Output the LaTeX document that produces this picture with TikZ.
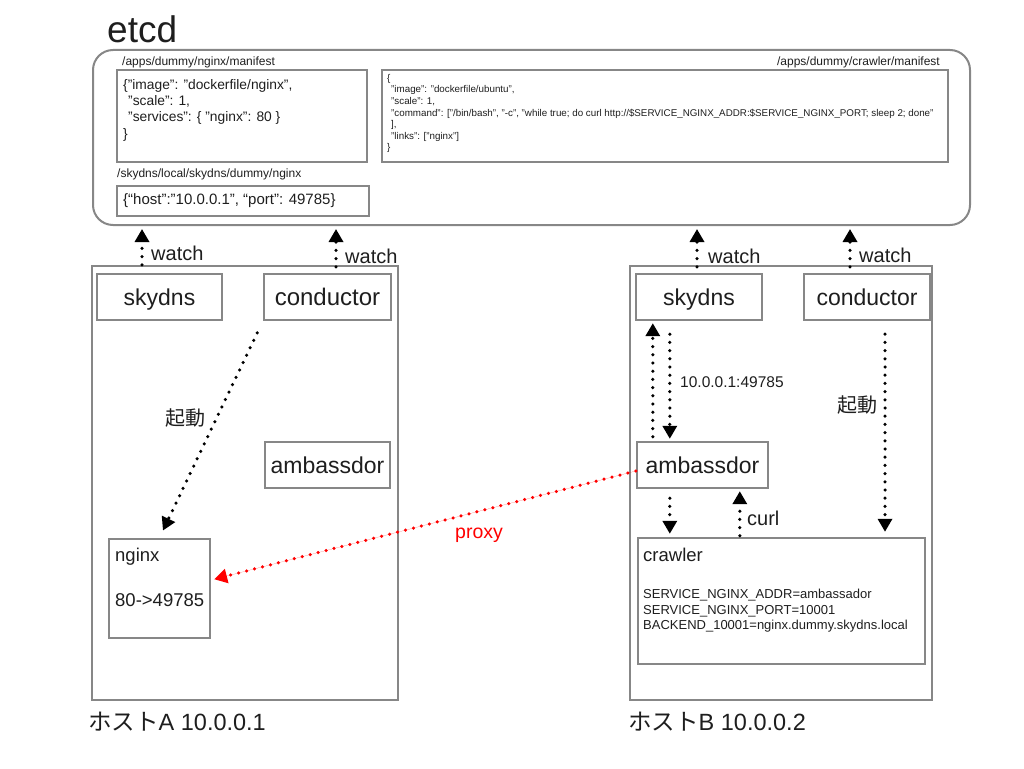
\documentclass[tikz,border=0pt]{standalone}
\usepackage{fontspec}
\setmainfont{Liberation Sans}
\newfontfamily\jpfont{Noto Sans CJK JP}
\usetikzlibrary{arrows.meta,calc}
\definecolor{edge}{HTML}{878787}
\definecolor{ink}{HTML}{1E1E1E}
\definecolor{proxyred}{HTML}{FF0000}
\newcommand\fsz[2]{\fontsize{#1}{#2}\selectfont}
\begin{document}
\begin{tikzpicture}[x=1pt,y=-1pt,
  gbox/.style={draw=edge, line width=2.4pt, inner sep=0pt, text=ink},
  txt/.style={inner sep=0pt, text=ink},
  dotarr/.style={draw=black, line width=3.5pt, dash pattern=on 0pt off 8.2pt, line cap=round, -{Triangle[width=14pt,length=13pt]}},
  redarr/.style={dotarr, draw=proxyred, fill=proxyred},
  wlbl/.style={txt, anchor=base west, font=\fsz{20}{24}},
  comp/.style={gbox, minimum height=46pt, text depth=0pt, font=\fsz{23}{27}}
]
\useasboundingbox (0,0) rectangle (1024,768);

% ---------- etcd ----------
\node[gbox, rounded corners=20pt, line width=2pt, minimum width=877pt, minimum height=175pt] (etcd) at (531.5,137.5) {};
\node[txt, anchor=base west, font=\fsz{37}{40}] (etcdlbl) at (107,42) {etcd};

\node[txt, anchor=base west, font=\fsz{12}{14}] (nmflbl) at (122,66) {/apps/dummy/nginx/manifest};
\node[gbox, minimum width=250pt, minimum height=92pt] (nmf) at (242,116) {};
\node[txt, anchor=north west, align=left, font=\fsz{13.8}{16.3}] (nmftxt) at (123,79)
 {\{"image": "dockerfile/nginx",\\
  \hspace*{5pt}"scale": 1,\\
  \hspace*{5pt}"services": \{ "nginx": 80 \}\\
  \}};

\node[txt, anchor=base west, font=\fsz{12}{14}] (skvlbl) at (117,177) {/skydns/local/skydns/dummy/nginx};
\node[gbox, minimum width=252pt, minimum height=30pt] (skv) at (243,201) {};
\node[txt, anchor=west, font=\fsz{15}{18}] (skvtxt) at (123,201) {\{“host”:"10.0.0.1", “port”: 49785\}};

\node[txt, anchor=base east, font=\fsz{12}{14}] (cmflbl) at (940,66) {/apps/dummy/crawler/manifest};
\node[gbox, minimum width=566pt, minimum height=92pt] (cmf) at (665,116) {};
\node[txt, anchor=north west, align=left, font=\fsz{9.8}{11.6}] (cmftxt) at (387,74)
 {\{\\
  \hspace*{4pt}"image": "dockerfile/ubuntu",\\
  \hspace*{4pt}"scale": 1,\\
  \hspace*{4pt}"command": ["/bin/bash", "-c", "while true; do curl http://\$SERVICE\_NGINX\_ADDR:\$SERVICE\_NGINX\_PORT; sleep 2; done"\\
  \hspace*{4pt}],\\
  \hspace*{4pt}"links": ["nginx"]\\
  \}};

% ---------- host A ----------
\node[gbox, minimum width=306pt, minimum height=434pt] (hostA) at (245,483) {};
\node[comp, minimum width=125pt] (skA) at (159.5,297) {skydns};
\node[comp, minimum width=127pt, font=\fsz{24}{28}] (coA) at (327.5,297) {conductor};
\node[comp, minimum width=125pt] (amA) at (327.5,465) {ambassdor};
\node[gbox, minimum width=101pt, minimum height=99pt] (ngA) at (159.5,588.5) {};
\node[txt, anchor=base west, font=\fsz{18.5}{22}] (ngAt1) at (115,561) {nginx};
\node[txt, anchor=base west, font=\fsz{18.5}{22}] (ngAt2) at (115,606) {80->49785};
\node[txt, anchor=base west, font=\fsz{23.5}{28}] (hostAlbl) at (88,730) {{\jpfont ホスト}A 10.0.0.1};

% ---------- host B ----------
\node[gbox, minimum width=302pt, minimum height=434pt] (hostB) at (781,483) {};
\node[comp, minimum width=126pt] (skB) at (699,297) {skydns};
\node[comp, minimum width=126pt] (coB) at (867,297) {conductor};
\node[comp, minimum width=131pt] (amB) at (702.5,465) {ambassdor};
\node[gbox, minimum width=287pt, minimum height=126pt] (crB) at (781.5,601) {};
\node[txt, anchor=base west, font=\fsz{18.5}{22}] (crBt) at (643,561) {crawler};
\node[txt, anchor=north west, align=left, font=\fsz{13}{15.6}] (crBenv) at (643,589)
 {SERVICE\_NGINX\_ADDR=ambassador\\
  SERVICE\_NGINX\_PORT=10001\\
  BACKEND\_10001=nginx.dummy.skydns.local};
\node[txt, anchor=base west, font=\fsz{23.5}{28}] (hostBlbl) at (628,730) {{\jpfont ホスト}B 10.0.0.2};

% ---------- anchor points for vertical connectors ----------
\coordinate (wA1) at ($(skA.north)+(-17.5,-8)$);
\coordinate (wA2) at ($(coA.north)+(8.5,-6)$);
\coordinate (wB1) at ($(skB.north)+(-2,-6)$);
\coordinate (wB2) at ($(coB.north)+(-17,-6)$);
\coordinate (upB) at ($(amB.north west)+(17,-4)$);
\coordinate (dnB) at ($(amB.north west)+(34,0)$);
\coordinate (amOut) at ($(amB.south west)+(34,9)$);
\coordinate (crOut) at ($(crB.north west)+(103,-1)$);
\coordinate (coOut) at ($(coB.south)+(18,13)$);

% ---------- watch arrows ----------
\draw[dotarr, shorten >=3pt] (wA1) -- (wA1 |- etcd.south);
\node[wlbl] (wlA1) at (151,260) {watch};
\draw[dotarr, shorten >=3pt] (wA2) -- (wA2 |- etcd.south);
\node[wlbl] (wlA2) at (345,263) {watch};
\draw[dotarr, shorten >=3pt] (wB1) -- (wB1 |- etcd.south);
\node[wlbl] (wlB1) at (708,263) {watch};
\draw[dotarr, shorten >=3pt] (wB2) -- (wB2 |- etcd.south);
\node[wlbl] (wlB2) at (859,262) {watch};

% ---------- host A arrows ----------
\draw[dotarr, shorten <=13pt, shorten >=8pt] (coA.south west) -- (ngA.north);
\node[txt, anchor=center, font=\jpfont\fsz{20}{24}] (kidoA) at (185,418) {起動};

% ---------- host B arrows ----------
\draw[dotarr, shorten >=2pt] (upB) -- (upB |- skB.south);
\draw[dotarr, shorten <=13pt, shorten >=2pt] (dnB |- skB.south) -- (dnB);
\node[txt, anchor=west, font=\fsz{15.5}{18}] (addr) at (680,382) {10.0.0.1:49785};

\draw[dotarr, shorten >=3pt] (amOut) -- (amOut |- crB.north);
\draw[dotarr, shorten >=2pt] (crOut) -- (crOut |- amB.south);
\node[wlbl] (curl) at (747,525) {curl};

\draw[dotarr, shorten >=5pt] (coOut) -- (coOut |- crB.north);
\node[txt, anchor=center, font=\jpfont\fsz{20}{24}] (kidoB) at (857,405) {起動};

% ---------- proxy ----------
\draw[redarr, shorten >=3pt] ([yshift=-6pt]amB.west) -- ([yshift=8.5pt]ngA.east);
\node[txt, anchor=center, text=proxyred, font=\fsz{19.5}{23}] (proxy) at (479,535) {proxy};

\end{tikzpicture}
\end{document}
